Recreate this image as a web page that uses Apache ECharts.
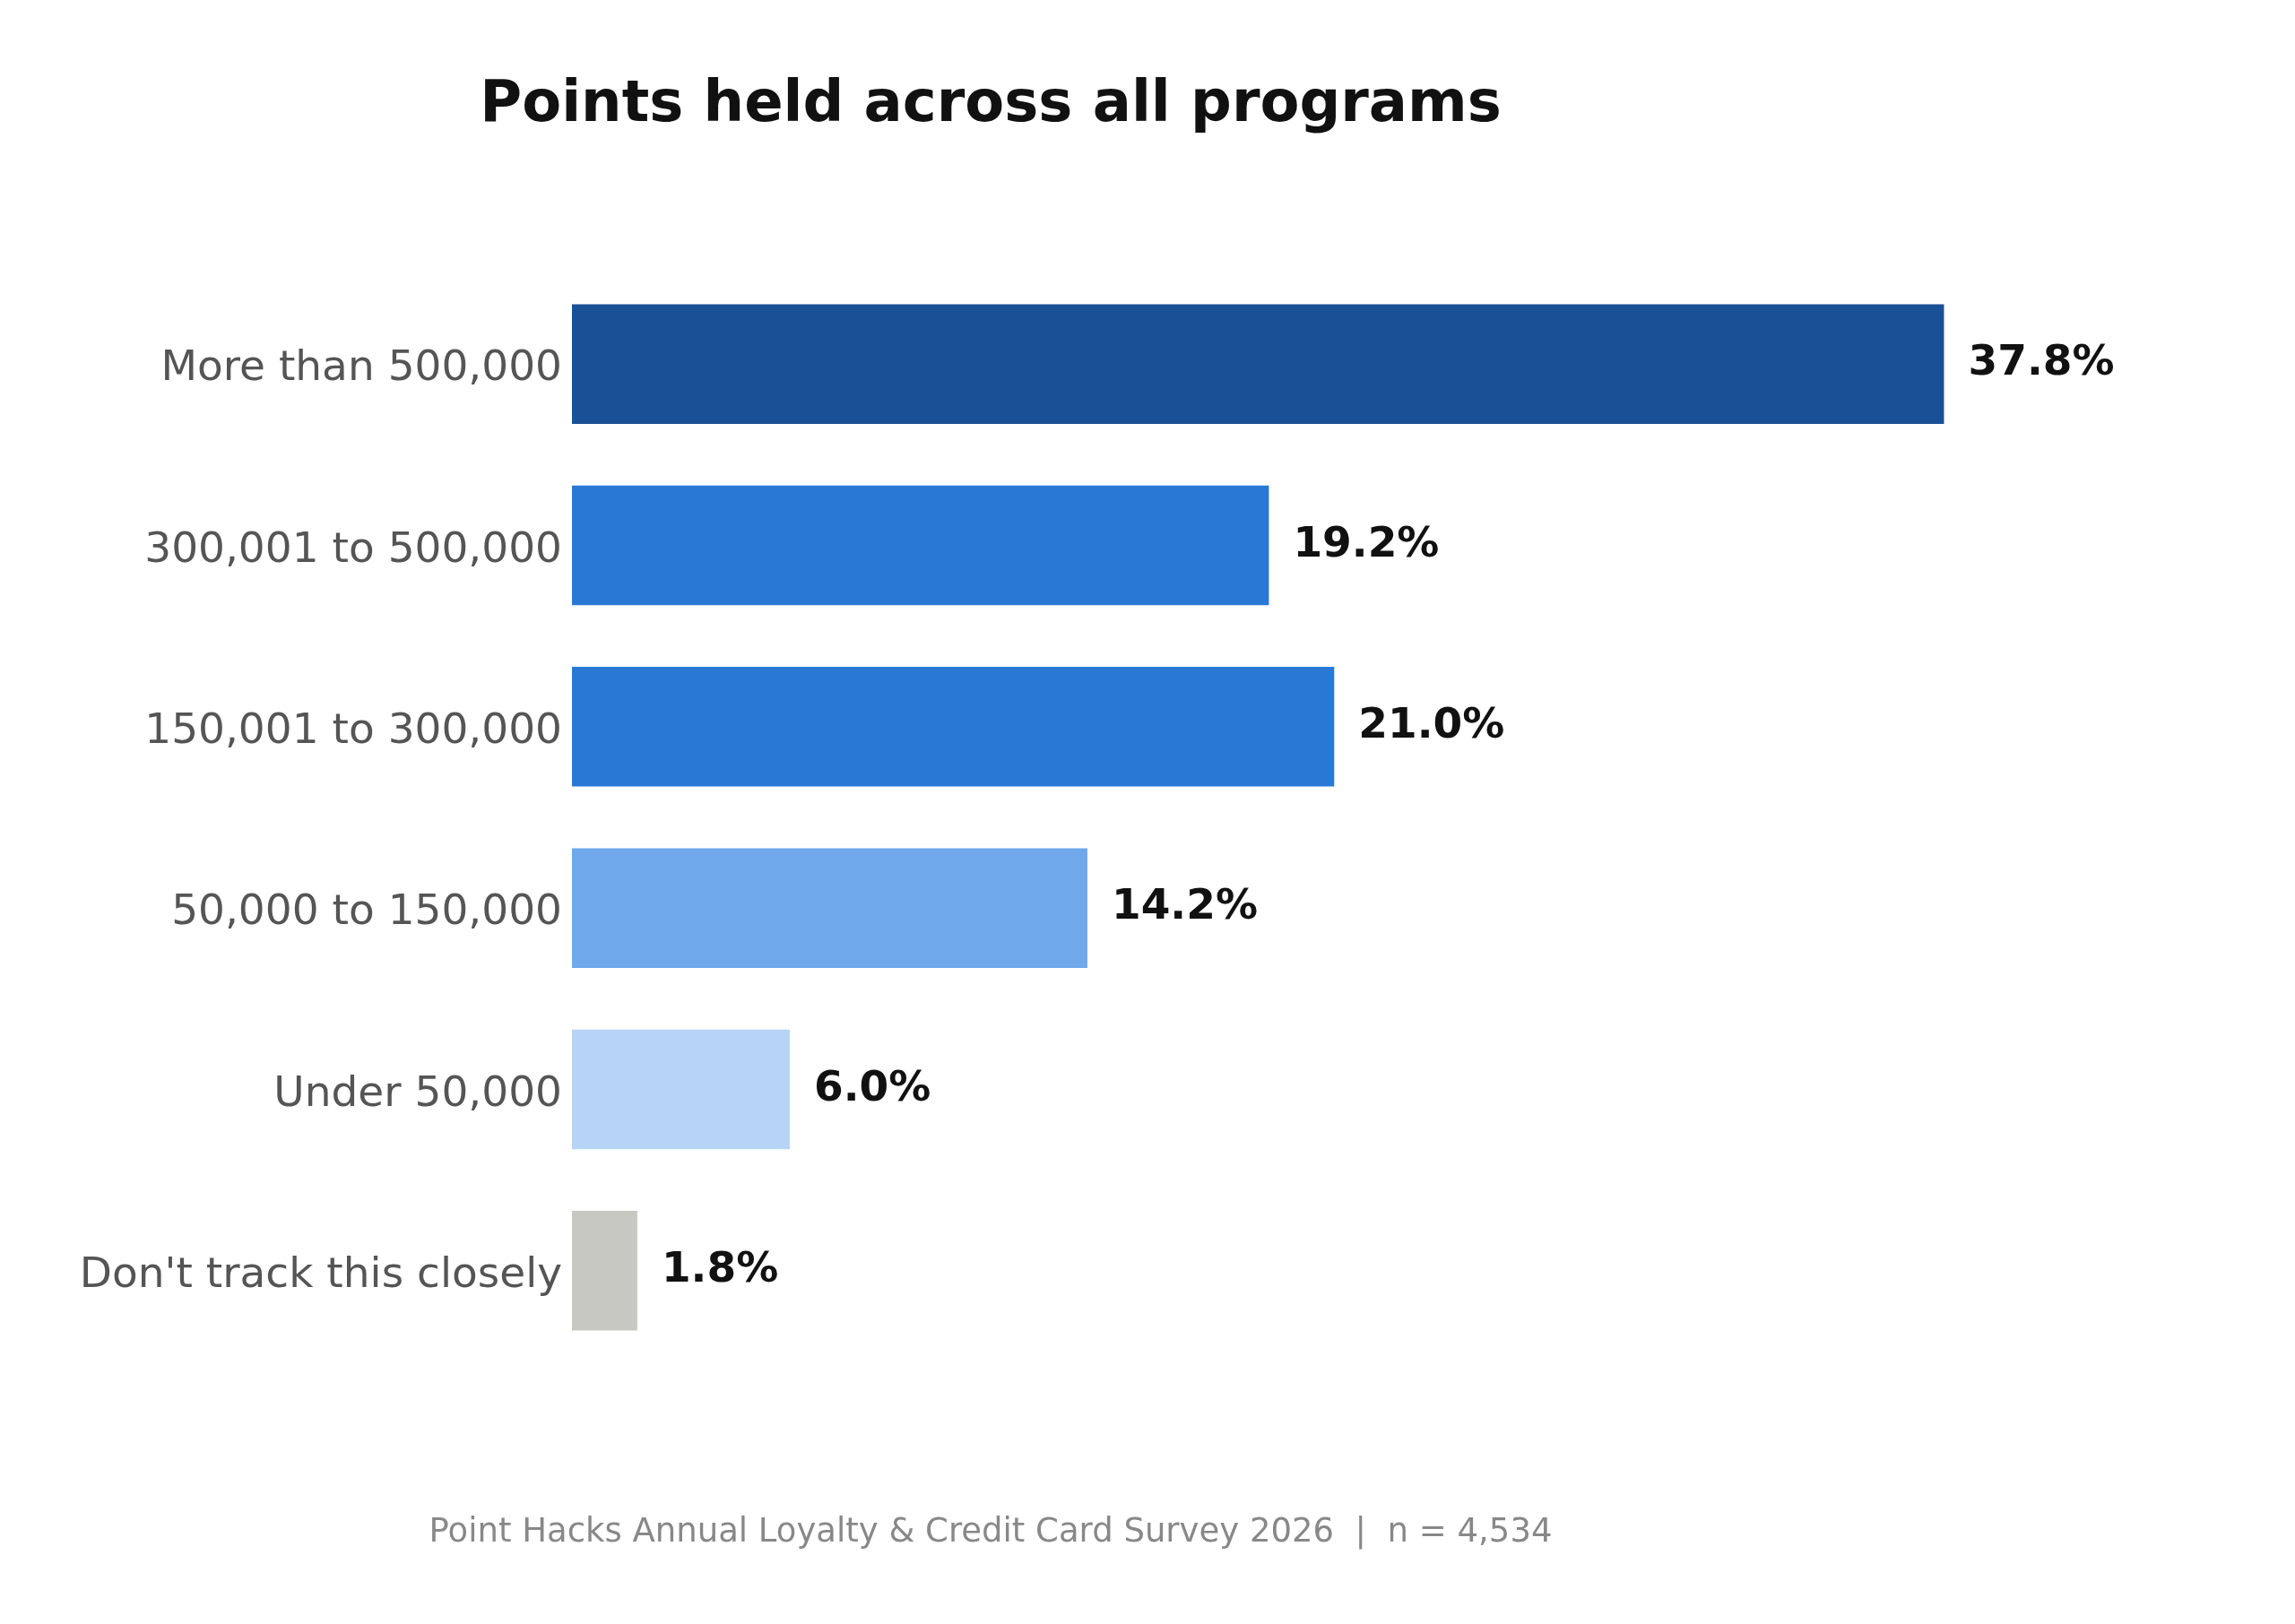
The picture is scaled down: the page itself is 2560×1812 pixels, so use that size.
<!DOCTYPE html>
<html>
	<head>
		<meta charset="utf-8">
		<title>Points held across all programs</title>
		<script src="https://cdn.jsdelivr.net/npm/echarts@6/dist/echarts.min.js"></script>
		<style>
			html, body { margin: 0; padding: 0; background: #fff; }
			#main { width: 2560px; height: 1812px; }
		</style>
	</head>
	<body>
		<div id="main"></div>
		<script type="text/javascript">
			// categories, top to bottom
			var categories = ['More than 500,000', '300,001 to 500,000', '150,001 to 300,000', '50,000 to 150,000', 'Under 50,000', "Don't track this closely"];
			var shares = [37.8, 19.2, 21.0, 14.2, 6.0, 1.8];
			var barColors = ['#1A5096', '#2A78D6', '#2A78D6', '#6FA8EB', '#B7D3F6', '#C8C8C3'];
			var titleText = 'Points held across all programs';
			var footerText = 'Point Hacks Annual Loyalty & Credit Card Survey 2026  |  n = 4,534';

			var chart = echarts.init(document.getElementById('main'));
			var font = 'DejaVu Sans';

			var barData = [];
			for (var i = 0; i < shares.length; i++) {
				barData.push({ value: shares[i], itemStyle: { color: barColors[i] } });
			}

			var option = {
				backgroundColor: '#ffffff',
				animation: false,
				textStyle: { fontFamily: font },
				grid: {
					left: 638,
					right: 100,
					top: 305,
					bottom: 293,
					containLabel: false,
					outerBoundsMode: 'none'
				},
				xAxis: {
					type: 'value',
					min: 0,
					max: 45,
					show: false
				},
				yAxis: {
					type: 'category',
					inverse: true,
					data: categories,
					axisLine: { show: false },
					axisTick: { show: false },
					axisLabel: {
						margin: 11,
						fontSize: 47,
						color: '#555555',
						fontFamily: font,
						// nudge the text a few px lower than a plain middle alignment
						verticalAlign: 'top',
						lineHeight: 12
					}
				},
				series: [{
					type: 'bar',
					data: barData,
					barCategoryGap: '34%',
					label: {
						show: true,
						position: 'right',
						distance: 27,
						fontSize: 47,
						fontWeight: 'bold',
						color: '#111111',
						fontFamily: font,
						formatter: function (p) { return p.value.toFixed(1) + '%'; }
					}
				}],
				graphic: [
					{
						type: 'text',
						x: 1105,
						y: 118,
						style: {
							text: titleText,
							font: 'bold 64px "DejaVu Sans"',
							fill: '#111111',
							textAlign: 'center',
							textVerticalAlign: 'middle',
							align: 'center',
							verticalAlign: 'middle'
						}
					},
					{
						type: 'text',
						x: 1105,
						y: 1710,
						style: {
							text: footerText,
							font: '37px "DejaVu Sans"',
							fill: '#888888',
							textAlign: 'center',
							textVerticalAlign: 'middle',
							align: 'center',
							verticalAlign: 'middle'
						}
					}
				]
			};
			chart.setOption(option);
		</script>
	</body>
</html>
